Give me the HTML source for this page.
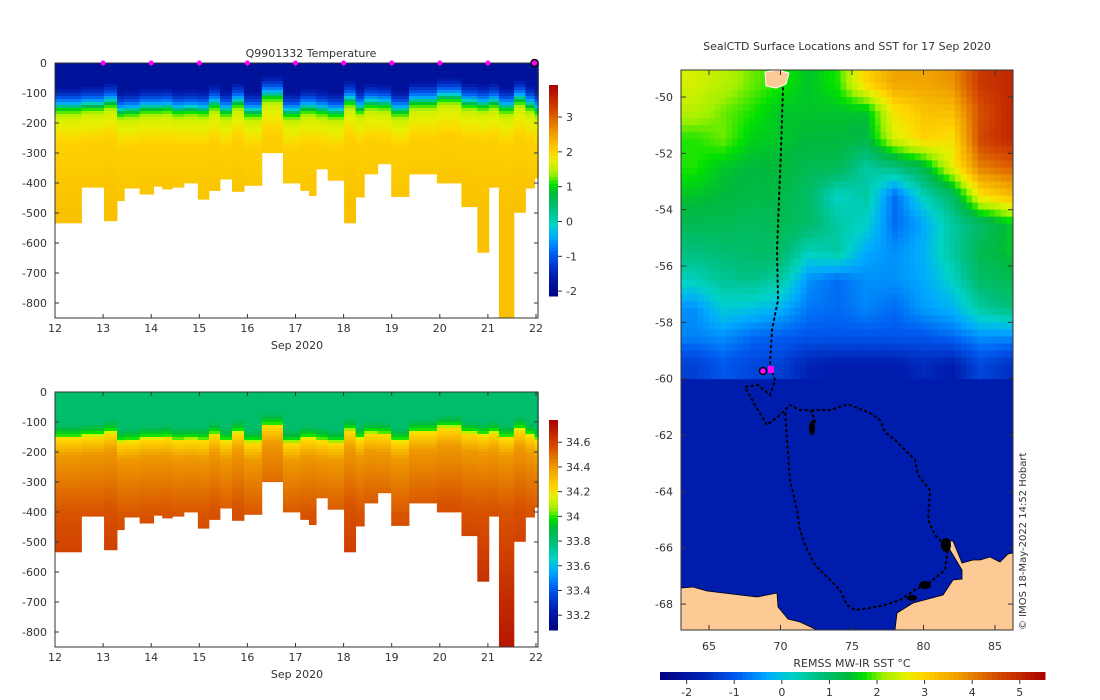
<!DOCTYPE html>
<html><head><meta charset="utf-8">
<style>
html,body{margin:0;padding:0;background:#fff;}
svg{display:block;font-family:"DejaVu Sans","Liberation Sans",sans-serif;}
text{fill:#333;font-size:11px;}
</style></head>
<body>
<svg id="fig" width="1100" height="700" viewBox="0 0 1100 700" xmlns="http://www.w3.org/2000/svg">
<g id="tplot"></g>
<g id="splot"></g>
<g id="map"></g>
</svg>
<script>
// ---- section data ----
const times = [12,12.55,13.02,13.29,13.44,13.76,14.05,14.23,14.44,14.68,14.97,15.2,15.43,15.68,15.93,16.3,16.74,17.1,17.28,17.43,17.67,18.01,18.25,18.43,18.71,18.99,19.36,19.94,20.45,20.78,21.02,21.23,21.54,21.78,21.97];
const endTime = 22.05;
const maxDepth = [533,414,526,459,417,437,411,420,414,400,454,425,387,428,408,299,400,425,442,353,391,533,447,370,336,445,370,400,479,631,414,850,498,417,384];
const mixedDepth = [150,144,133,165,161,152,152,150,159,156,159,139,161,133,165,110,167,152,152,159,167,127,153,136,139,161,131,116,135,141,133,150,122,142,158];
const markerDays = [13,14,15,16,17,18,19,20,21];
const depthTicks = [0,100,200,300,400,500,600,700,800];
const dayTicks = [12,13,14,15,16,17,18,19,20,21,22];
const tempTicks = [3,2,1,0,-1,-2];
const salTicks = [34.6,34.4,34.2,34,33.8,33.6,33.4,33.2];
// ---- map data (SST, 2° lon x 1° lat cells) ----
const lonCenters = [64,66,68,70,72,74,76,78,80,82,84,86];
const latCenters = [-49.5,-50.5,-51.5,-52.5,-53.5,-54.5,-55.5,-56.5,-57.5,-58.5,-59.5];
const sst = [
[2.5,2.3,2.0,1.8,1.5,1.8,3.0,3.6,3.6,3.8,4.8,5.0],
[2.3,2.0,1.8,1.5,1.5,1.5,1.5,2.8,3.2,3.3,4.5,5.0],
[1.8,2.0,1.6,1.5,1.4,1.4,1.3,2.5,3.0,2.8,4.6,5.0],
[1.8,1.5,1.4,1.4,1.2,1.2,0.5,0.8,1.3,2.6,4.0,4.3],
[1.5,1.4,1.3,1.3,1.0,0.2,0.5,-0.8,0.3,1.0,2.8,3.3],
[1.2,1.2,1.1,1.2,1.0,0.5,0.2,-0.8,-0.3,0.5,1.0,1.5],
[0.8,0.9,1.0,1.0,0.3,0.5,-0.3,-0.5,-0.2,0.5,1.2,1.5],
[0.3,0.6,0.7,0.5,-0.5,-0.8,-0.5,-0.5,-0.3,0.2,1.0,1.2],
[-0.5,0.1,0.0,-0.2,-0.7,-0.8,-0.6,-0.8,-0.4,-0.2,0.5,0.8],
[-0.6,-0.5,-0.8,-0.9,-1.0,-1.0,-1.0,-1.0,-1.0,-0.8,-0.5,-0.5],
[-1.3,-1.0,-1.2,-1.3,-1.7,-1.8,-1.8,-1.8,-1.6,-1.8,-1.2,-1.5]];
const iceSST = -1.8;
const lonTicks = [65,70,75,80,85];
const latTicks = [-50,-52,-54,-56,-58,-60,-62,-64,-66,-68];
const sstTicks = [-2,-1,0,1,2,3,4,5];

const NS="http://www.w3.org/2000/svg";
function mk(tag,attrs,parent){const e=document.createElementNS(NS,tag);for(const k in attrs)e.setAttribute(k,attrs[k]);parent.appendChild(e);return e;}
const stops=[[0,[0,0,128]],[0.1,[0,30,175]],[0.2,[0,90,240]],[0.28,[0,170,255]],[0.34,[0,210,200]],[0.42,[0,190,120]],[0.49,[0,185,60]],[0.53,[0,225,0]],[0.58,[160,240,0]],[0.64,[230,240,0]],[0.68,[255,215,0]],[0.77,[240,160,0]],[0.87,[215,80,0]],[1,[170,0,0]]];
function cmap(f){f=Math.max(0,Math.min(1,f));for(let i=1;i<stops.length;i++){if(f<=stops[i][0]){const a=stops[i-1],b=stops[i];const t=(f-a[0])/(b[0]-a[0]);const c=a[1].map((v,j)=>Math.round(v+(b[1][j]-v)*t));return `rgb(${c[0]},${c[1]},${c[2]})`;}}return 'rgb(170,0,0)';}
function pw(z,k){if(z<=k[0][0])return k[0][1];for(let i=1;i<k.length;i++){if(z<=k[i][0]){const t=(z-k[i-1][0])/(k[i][0]-k[i-1][0]);return k[i-1][1]+(k[i][1]-k[i-1][1])*t;}}return k[k.length-1][1];}
function tempAt(z,m){return pw(z,[[m-70,-1.8],[m-40,-1.2],[m-15,-0.4],[m-5,0.3],[m+5,1.0],[m+30,1.6],[m+120,2.05],[m+350,2.2]]);}
function salAt(z,m){return pw(z,[[m-40,33.82],[m-5,34.0],[m+5,34.22],[m+60,34.4],[m+250,34.55],[m+700,34.72]]);}

function section(g,top,valFn,vmin,vmax,cbTicks,title,cbTop,cbBot,cbName){
  const X=d=>55+(d-12)*48.1, Y=z=>top+z*0.3;
  for(let i=0;i<times.length;i++){
    const x0=X(times[i]),x1=X(i+1<times.length?times[i+1]:endTime);
    for(let z=0;z<maxDepth[i];z+=10){
      const z1=Math.min(z+10,maxDepth[i]);
      const r=mk('rect',{x:x0,y:Y(z),width:x1-x0+0.4,height:Y(z1)-Y(z)+0.4,fill:cmap((valFn(z+5,mixedDepth[i])-vmin)/(vmax-vmin))},g);
      
      
    }
  }
  const fr=mk('rect',{x:55,y:top,width:483,height:255,fill:'none',stroke:'#333','stroke-width':1},g);
  
  depthTicks.forEach(d=>{const y=Y(d);mk('line',{x1:55,x2:59,y1:y,y2:y,stroke:'#333'},g);mk('line',{x1:534,x2:538,y1:y,y2:y,stroke:'#333'},g);
    const t=mk('text',{x:47,y:y+4,'text-anchor':'end'},g);t.textContent=d===0?'0':'-'+d;});
  dayTicks.forEach(d=>{const x=X(d);mk('line',{x1:x,x2:x,y1:top+255,y2:top+251,stroke:'#333'},g);mk('line',{x1:x,x2:x,y1:top,y2:top+4,stroke:'#333'},g);
    const t=mk('text',{x:x,y:top+269,'text-anchor':'middle'},g);t.textContent=d;});
  const xl=mk('text',{x:297,y:top+286,'text-anchor':'middle'},g);xl.textContent='Sep 2020';
  if(title){const tt=mk('text',{x:311,y:57,'text-anchor':'middle'},g);tt.textContent=title;}
  const cb=mk('g',{},g);
  const n=60;for(let k=0;k<n;k++){const y0=cbBot-(k+1)*(cbBot-cbTop)/n;mk('rect',{x:549,y:y0,width:9,height:(cbBot-cbTop)/n+0.5,fill:cmap((k+0.5)/n)},cb);}
  const CY=v=>cbBot-(v-vmin)/(vmax-vmin)*(cbBot-cbTop);
  cbTicks.forEach(v=>{const y=CY(v);mk('line',{x1:558,x2:562,y1:y,y2:y,stroke:'#333'},cb);const t=mk('text',{x:566,y:y+4},cb);t.textContent=String(v);});
  return X;
}
const tg=document.getElementById('tplot');
const Xt=section(tg,63,tempAt,-2.14,3.92,tempTicks,'Q9901332  Temperature',85,296,'temperature-colorbar');
markerDays.forEach(d=>{const m=mk('circle',{cx:Xt(d),cy:63,r:2.5,fill:'#ff00ff'},tg);});
const cm=mk('circle',{cx:Xt(21.97),cy:63,r:3.5,fill:'#ff00ff',stroke:'#000','stroke-width':1.5},tg);
section(document.getElementById('splot'),392,salAt,33.08,34.78,salTicks,null,420,630,'salinity-colorbar');

// ---- map ----
const mg=document.getElementById('map');
const MX=lon=>709+(lon-65)*14.3, MY=lat=>97+(-50-lat)*28.17;
const smin=-2.56,smax=5.53;
const clip=mk('clipPath',{id:'mclip'},mg);mk('rect',{x:681,y:70,width:332,height:560},clip);
const cells=mk('g',{'clip-path':'url(#mclip)'},mg);

mk('rect',{x:681,y:70,width:332,height:560,fill:cmap((iceSST-smin)/(smax-smin))},cells);
function sstAt(lon,lat){
  let fc=(lon-lonCenters[0])/2, fr=(latCenters[0]-lat);
  fc=Math.max(0,Math.min(lonCenters.length-1,fc)); fr=Math.max(0,Math.min(latCenters.length-1,fr));
  const c0=Math.floor(fc),r0=Math.floor(fr),c1=Math.min(c0+1,lonCenters.length-1),r1=Math.min(r0+1,latCenters.length-1);
  const tc=fc-c0,tr=fr-r0;
  const a=sst[r0][c0]*(1-tc)+sst[r0][c1]*tc, b=sst[r1][c0]*(1-tc)+sst[r1][c1]*tc;
  return a*(1-tr)+b*tr;
}
for(let lat=-49;lat>-60;lat-=0.25){for(let lon=63;lon<86.5;lon+=0.4){
  const x0=MX(lon),y0=MY(lat);
  const e=mk('rect',{x:x0,y:y0,width:MX(lon+0.4)-x0+0.5,height:MY(lat-0.25)-y0+0.5,fill:cmap((sstAt(lon+0.2,lat-0.125)-smin)/(smax-smin))},cells);
  
}}
const land='#fdca96';
let p=mk('polygon',{points:'681,588 693,587 707,591 740,595 757,597 777,593 778,607 788,619 800,622 815,629 815,630 681,630',fill:land,stroke:'#000','stroke-width':0.8},mg);
p=mk('polygon',{points:'895,630 897,613 913,603 943,595 953,580 962,579 962,570 950,550 947,541 953,541 962,563 973,560 980,560 990,557 1000,562 1008,554 1013,553 1013,630',fill:land,stroke:'#000','stroke-width':0.8},mg);
p=mk('polygon',{points:'765,72 778,70 789,73 786,84 776,88 766,86',fill:land,stroke:'#fff','stroke-width':1},mg);
const track=mk('polyline',{points:'783,88 781,150 777,250 778,300 772,330 770,362 771,369 775,380 770,395 758,385 745,387 755,405 767,425 780,415 790,405 800,410 810,410 815,420 813,435 813,410 830,410 845,405 850,405 870,413 880,420 885,432 895,440 905,450 915,460 918,475 930,490 928,520 935,535 945,545 948,545 945,570 930,582 915,590 900,600 885,605 870,608 855,610 847,605 840,590 828,578 815,565 805,545 800,530 797,510 790,480 787,440 785,410',fill:'none',stroke:'#000','stroke-width':2,'stroke-dasharray':'1.5 4','stroke-linecap':'round'},mg);

const cl=mk('g',{},mg);
[[946,545,5,7],[925,585,6,4],[912,598,5,3],[812,428,3,7]].forEach(c=>mk('ellipse',{cx:c[0],cy:c[1],rx:c[2],ry:c[3],fill:'#000'},cl));
let mm=mk('rect',{x:768,y:366,width:6,height:7,fill:'#ff00ff'},mg);
mm=mk('circle',{cx:763,cy:371,r:3.5,fill:'#ff00ff',stroke:'#000','stroke-width':1.5},mg);
mk('rect',{x:681,y:70,width:332,height:560,fill:'none',stroke:'#333'},mg);
lonTicks.forEach(l=>{const x=MX(l);mk('line',{x1:x,x2:x,y1:630,y2:625,stroke:'#333'},mg);mk('line',{x1:x,x2:x,y1:70,y2:75,stroke:'#333'},mg);
  const t=mk('text',{x:x,y:650,'text-anchor':'middle'},mg);t.textContent=l;});
latTicks.forEach(l=>{const y=MY(l);mk('line',{x1:681,x2:686,y1:y,y2:y,stroke:'#333'},mg);mk('line',{x1:1008,x2:1013,y1:y,y2:y,stroke:'#333'},mg);
  const t=mk('text',{x:673,y:y+4,'text-anchor':'end'},mg);t.textContent=l;});
const mt=mk('text',{x:847,y:50,'text-anchor':'middle'},mg);mt.textContent='SealCTD Surface Locations and SST for 17 Sep 2020';
const cr=mk('text',{x:0,y:0,transform:'translate(1026,630) rotate(-90)',style:'font-size:10px'},mg);cr.textContent='\u00A9 IMOS 18-May-2022 14:52 Hobart';
const hb=mk('g',{},mg);
const nn=80;for(let k=0;k<nn;k++){mk('rect',{x:660+k*385/nn,y:672,width:385/nn+0.5,height:8,fill:cmap((k+0.5)/nn)},hb);}
const SX=v=>660+(v-smin)/(smax-smin)*385;
sstTicks.forEach(v=>{const x=SX(v);mk('line',{x1:x,x2:x,y1:680,y2:684,stroke:'#333'},hb);const t=mk('text',{x:x,y:696,'text-anchor':'middle'},hb);t.textContent=v;});
const hl=mk('text',{x:852,y:667,'text-anchor':'middle'},mg);hl.textContent='REMSS MW-IR SST \u00B0C';
</script>
</body></html>
